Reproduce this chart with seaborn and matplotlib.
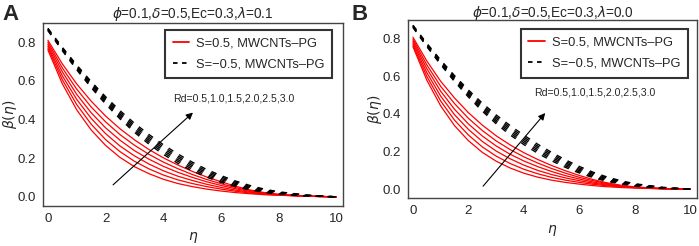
import numpy as np
import pandas as pd
import seaborn as sns
import matplotlib.pyplot as plt
from matplotlib.lines import Line2D

eta = [0, 0.5, 1, 1.5, 2, 2.5, 3, 3.5, 4, 4.5, 5, 5.5, 6, 6.5, 7, 7.5, 8, 9, 10]
rd_values = [0.5, 1.0, 1.5, 2.0, 2.5, 3.0]

# panel A (lambda = 0.1), one row per Rd
red_a = [
    [.760, .585, .450, .346, .266, .204, .156, .120, .091, .069, .053, .040, .030, .022, .016, .011, .008, .003, 0],
    [.770, .606, .477, .376, .296, .234, .184, .145, .113, .088, .069, .053, .040, .029, .020, .013, .009, .003, 0],
    [.780, .626, .504, .406, .327, .263, .212, .170, .135, .107, .085, .065, .049, .035, .024, .015, .010, .003, 0],
    [.790, .647, .530, .435, .357, .293, .239, .195, .158, .127, .101, .078, .059, .042, .028, .018, .011, .003, 0],
    [.800, .667, .557, .465, .388, .322, .267, .220, .180, .146, .116, .090, .068, .048, .032, .020, .012, .003, 0],
    [.810, .688, .584, .495, .418, .352, .295, .245, .202, .165, .132, .103, .078, .055, .036, .022, .013, .003, 0],
]
black_a = [
    [.860, .756, .657, .565, .480, .403, .334, .273, .220, .174, .135, .102, .075, .053, .036, .023, .014, .004, 0],
    [.862, .760, .662, .571, .488, .411, .343, .283, .230, .184, .144, .110, .082, .058, .040, .026, .016, .005, 0],
    [.865, .763, .667, .578, .495, .420, .352, .293, .240, .193, .153, .118, .089, .064, .045, .029, .019, .006, 0],
    [.867, .767, .672, .584, .503, .428, .362, .303, .250, .203, .162, .126, .096, .070, .049, .033, .021, .007, 0],
    [.870, .770, .677, .591, .510, .437, .371, .313, .260, .212, .171, .134, .103, .076, .054, .036, .024, .008, 0],
    [.872, .774, .682, .597, .518, .446, .381, .323, .270, .222, .180, .142, .110, .082, .059, .040, .026, .009, 0],
]

# panel B (lambda = 0.0)
red_b = [
    [.758, .580, .443, .338, .258, .196, .149, .113, .085, .064, .048, .036, .027, .019, .013, .009, .006, .002, 0],
    [.768, .600, .469, .367, .288, .225, .176, .137, .106, .082, .063, .048, .036, .026, .018, .012, .008, .002, 0],
    [.778, .620, .495, .396, .318, .254, .203, .162, .128, .100, .078, .060, .045, .032, .022, .014, .009, .003, 0],
    [.788, .641, .521, .425, .347, .283, .230, .186, .150, .120, .094, .072, .054, .038, .026, .016, .010, .003, 0],
    [.798, .661, .547, .455, .377, .312, .257, .211, .172, .139, .110, .085, .063, .045, .030, .018, .011, .003, 0],
    [.808, .682, .574, .485, .407, .341, .284, .236, .194, .158, .126, .098, .073, .051, .034, .021, .012, .003, 0],
]
black_b = [
    [.860, .758, .662, .572, .490, .415, .348, .289, .237, .191, .151, .116, .086, .061, .042, .028, .017, .005, 0],
    [.862, .762, .667, .578, .498, .423, .357, .299, .247, .201, .160, .124, .092, .066, .046, .031, .019, .006, 0],
    [.865, .765, .672, .585, .505, .432, .366, .309, .257, .210, .169, .132, .099, .072, .051, .034, .022, .007, 0],
    [.867, .769, .677, .591, .513, .440, .376, .319, .267, .220, .178, .140, .106, .078, .055, .038, .024, .008, 0],
    [.870, .772, .682, .598, .520, .449, .385, .329, .277, .229, .187, .148, .113, .084, .060, .041, .027, .009, 0],
    [.872, .776, .687, .604, .528, .458, .395, .339, .287, .239, .196, .156, .121, .090, .065, .045, .029, .010, 0],
]

titles = [r"$\phi$=0.1,$\delta$=0.5,Ec=0.3,$\lambda$=0.1",
          r"$\phi$=0.1,$\delta$=0.5,Ec=0.3,$\lambda$=0.0"]
labels = ["S=0.5, MWCNTs\u2013PG", "S=\u22120.5, MWCNTs\u2013PG"]
rd_text = "Rd=0.5,1.0,1.5,2.0,2.5,3.0"


def to_long(red, black):
    rows = []
    for s, block in [("0.5", red), ("-0.5", black)]:
        for rd, vals in zip(rd_values, block):
            for e, v in zip(eta, vals):
                rows.append({"eta": e, "beta": v, "Rd": rd, "S": s})
    return pd.DataFrame(rows)


sns.set_style("white")
plt.rcParams["font.family"] = ["Liberation Sans", "DejaVu Sans"]
plt.rcParams["mathtext.fontset"] = "dejavusans"

fig = plt.figure(figsize=(6.99, 2.46), dpi=100)
ax_a = fig.add_axes([0.0615, 0.163, 0.4295, 0.744])
ax_b = fig.add_axes([0.584, 0.195, 0.413, 0.724])

panels = [
    (ax_a, to_long(red_a, black_a), titles[0], 3.5, (0.963, 0.962), (2.26, 0.062), (5.03, 0.436), (4.34, 0.51), "A", 0.003),
    (ax_b, to_long(red_b, black_b), titles[1], 2.0, (0.969, 0.949), (2.53, 0.016), (4.77, 0.405), (4.37, 0.515), "B", 0.503),
]

for ax, df, title, tpad, leg_pos, arr_from, arr_to, txt_pos, letter, lx in panels:
    sns.lineplot(data=df, x="eta", y="beta", hue="S", style="S", size="S",
                 units="Rd", estimator=None, sort=False, ax=ax, legend=False,
                 palette={"0.5": "#ff0000", "-0.5": "black"},
                 dashes={"0.5": "", "-0.5": (4.0, 4.8)},
                 sizes={"0.5": 0.9, "-0.5": 1.0})
    ax.set_xlim(-0.17, 10.24)
    ax.set_ylim(-0.047, 0.9)
    ax.set_xticks([0, 2, 4, 6, 8, 10])
    ax.set_yticks([0.0, 0.2, 0.4, 0.6, 0.8])
    ax.set_yticklabels(["0.0", "0.2", "0.4", "0.6", "0.8"])
    ax.tick_params(length=0, labelsize=9.5, pad=5)
    for sp in ax.spines.values():
        sp.set_color("#444444")
        sp.set_linewidth(1.0)
    ax.set_xlabel(r"$\eta$", fontsize=10, labelpad=4)
    ax.set_ylabel(r"$\beta(\eta)$", fontsize=10, labelpad=-1)
    ax.set_title(title, fontsize=9.8, pad=tpad)

    handles = [Line2D([], [], color="#ff0000", lw=1.3),
               Line2D([], [], color="black", lw=1.3, dashes=(2.5, 2.5))]
    leg = ax.legend(handles, labels, loc="upper right", bbox_to_anchor=leg_pos,
                    borderaxespad=0, fontsize=9.3, frameon=True, fancybox=False,
                    handlelength=1.3, handletextpad=0.5, labelspacing=0.7,
                    borderpad=0.6)
    leg.get_frame().set_edgecolor("black")
    leg.get_frame().set_linewidth(1.5)

    ax.annotate("", xy=arr_to, xytext=arr_from,
                arrowprops=dict(arrowstyle="-|>", color="black", lw=0.8,
                                mutation_scale=10, shrinkA=0, shrinkB=0))
    ax.text(txt_pos[0], txt_pos[1], rd_text, fontsize=7.6, va="center", ha="left")
    fig.text(lx, 0.985, letter, fontsize=16, fontweight="bold", va="top", ha="left")

fig.savefig("out.png", dpi=100)
